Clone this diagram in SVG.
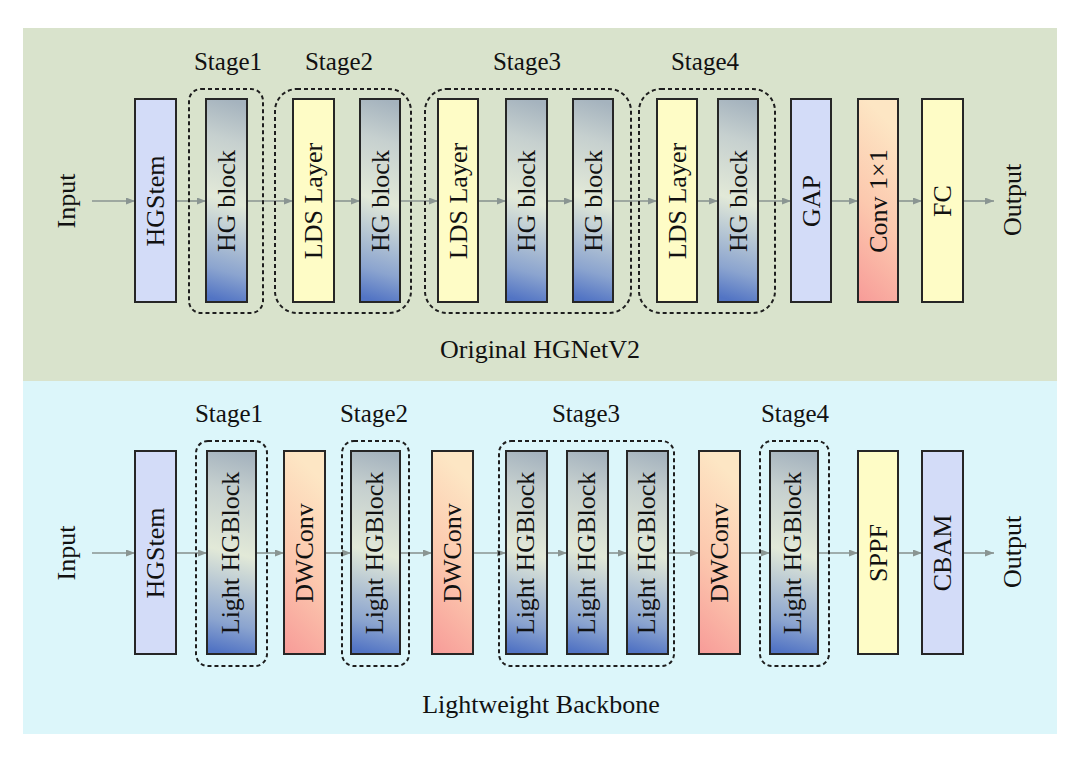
<svg xmlns="http://www.w3.org/2000/svg" width="1080" height="763" viewBox="0 0 1080 763">
<defs>
<linearGradient id="hg" x1="0.47" y1="1" x2="0.53" y2="0">
<stop offset="0" stop-color="#5274c4"/>
<stop offset="0.15" stop-color="#8ba4cf"/>
<stop offset="0.5" stop-color="#e2e9d8"/>
<stop offset="0.8" stop-color="#c6d0cf"/>
<stop offset="1" stop-color="#a5b3be"/>
</linearGradient>
<linearGradient id="cv" x1="0.2" y1="0" x2="0" y2="1">
<stop offset="0" stop-color="#fde6c4"/>
<stop offset="0.5" stop-color="#fcc8ae"/>
<stop offset="1" stop-color="#f79b98"/>
</linearGradient>
<marker id="ah" markerUnits="userSpaceOnUse" markerWidth="10" markerHeight="8" refX="9" refY="3.5" orient="auto">
<path d="M0,0 L9,3.5 L0,7 z" fill="#8a9592"/>
</marker>
</defs>
<style>
.t{font-family:"Liberation Serif","Times New Roman",serif;font-size:26px;fill:#111;text-anchor:middle}
.s{font-family:"Liberation Serif","Times New Roman",serif;font-size:25px;fill:#111;text-anchor:middle}
.b{stroke:#262626;stroke-width:2}
.lav{fill:#d3dcf8}
.yel{fill:#fefcc6}
.hg{fill:url(#hg)}
.cv{fill:url(#cv)}
.d{fill:none;stroke:#1e1e1e;stroke-width:2;stroke-dasharray:4 3}
.c line{stroke:#8a9592;stroke-width:1.6;marker-end:url(#ah)}
</style>
<rect x="0" y="0" width="1080" height="763" fill="#ffffff"/>
<rect id="panel-top" x="23" y="28" width="1034" height="353" fill="#d9e3cc"/>
<rect id="panel-bottom" x="23" y="381" width="1034" height="353" fill="#dcf6fa"/>

<g id="connectors" class="c">
<line x1="92" y1="201" x2="135" y2="201"/>
<line x1="176" y1="201" x2="206" y2="201"/>
<line x1="247" y1="201" x2="293" y2="201"/>
<line x1="334" y1="201" x2="360" y2="201"/>
<line x1="400" y1="201" x2="438" y2="201"/>
<line x1="478" y1="201" x2="506" y2="201"/>
<line x1="547" y1="201" x2="573" y2="201"/>
<line x1="613" y1="201" x2="657" y2="201"/>
<line x1="697" y1="201" x2="718" y2="201"/>
<line x1="758" y1="201" x2="791" y2="201"/>
<line x1="831" y1="201" x2="858" y2="201"/>
<line x1="898" y1="201" x2="922" y2="201"/>
<line x1="963" y1="201" x2="994" y2="201"/>
<line x1="92" y1="553" x2="135" y2="553"/>
<line x1="176" y1="553" x2="207" y2="553"/>
<line x1="256" y1="553" x2="284" y2="553"/>
<line x1="325" y1="553" x2="351" y2="553"/>
<line x1="400" y1="553" x2="432" y2="553"/>
<line x1="473" y1="553" x2="506" y2="553"/>
<line x1="547" y1="553" x2="567" y2="553"/>
<line x1="608" y1="553" x2="627" y2="553"/>
<line x1="668" y1="553" x2="699" y2="553"/>
<line x1="740" y1="553" x2="770" y2="553"/>
<line x1="818" y1="553" x2="858" y2="553"/>
<line x1="898" y1="553" x2="922" y2="553"/>
<line x1="963" y1="553" x2="994" y2="553"/>
</g>

<g id="top-stages">
<rect class="d" x="189" y="89" width="74" height="224" rx="12"/>
<rect class="d" x="275" y="89" width="136" height="224" rx="22"/>
<rect class="d" x="425" y="89" width="206" height="224" rx="22"/>
<rect class="d" x="639" y="89" width="136" height="224" rx="22"/>
<text class="s" x="228" y="70">Stage1</text>
<text class="s" x="339" y="70">Stage2</text>
<text class="s" x="527" y="70">Stage3</text>
<text class="s" x="705" y="70">Stage4</text>
</g>

<g id="top-input"><text class="t" transform="translate(75,201) rotate(-90)">Input</text></g>
<g id="top-hgstem"><rect class="b lav" x="135" y="99" width="41" height="203"/><text class="t" transform="translate(164,201) rotate(-90)">HGStem</text></g>
<g id="top-hg1"><rect class="b hg" x="206" y="99" width="41" height="203"/><text class="t" transform="translate(235,201) rotate(-90)">HG block</text></g>
<g id="top-lds2"><rect class="b yel" x="293" y="99" width="41" height="203"/><text class="t" transform="translate(322,201) rotate(-90)">LDS Layer</text></g>
<g id="top-hg2"><rect class="b hg" x="360" y="99" width="40" height="203"/><text class="t" transform="translate(388.5,201) rotate(-90)">HG block</text></g>
<g id="top-lds3"><rect class="b yel" x="438" y="99" width="40" height="203"/><text class="t" transform="translate(466.5,201) rotate(-90)">LDS Layer</text></g>
<g id="top-hg3a"><rect class="b hg" x="506" y="99" width="41" height="203"/><text class="t" transform="translate(535,201) rotate(-90)">HG block</text></g>
<g id="top-hg3b"><rect class="b hg" x="573" y="99" width="40" height="203"/><text class="t" transform="translate(601.5,201) rotate(-90)">HG block</text></g>
<g id="top-lds4"><rect class="b yel" x="657" y="99" width="40" height="203"/><text class="t" transform="translate(685.5,201) rotate(-90)">LDS Layer</text></g>
<g id="top-hg4"><rect class="b hg" x="718" y="99" width="40" height="203"/><text class="t" transform="translate(746.5,201) rotate(-90)">HG block</text></g>
<g id="top-gap"><rect class="b lav" x="791" y="99" width="40" height="203"/><text class="t" transform="translate(819.5,201) rotate(-90)">GAP</text></g>
<g id="top-conv"><rect class="b cv" x="858" y="99" width="40" height="203"/><text class="t" transform="translate(886.5,201) rotate(-90)">Conv 1×1</text></g>
<g id="top-fc"><rect class="b yel" x="922" y="99" width="41" height="203"/><text class="t" transform="translate(951,201) rotate(-90)">FC</text></g>
<g id="top-output"><text class="t" transform="translate(1021,200) rotate(-90)">Output</text></g>
<g id="top-title"><text class="t" x="540" y="358">Original HGNetV2</text></g>

<g id="bottom-stages">
<rect class="d" x="196" y="441" width="71" height="225" rx="12"/>
<rect class="d" x="342" y="441" width="67" height="225" rx="12"/>
<rect class="d" x="499" y="441" width="175" height="225" rx="12"/>
<rect class="d" x="760" y="441" width="69" height="225" rx="12"/>
<text class="s" x="229" y="422">Stage1</text>
<text class="s" x="374" y="422">Stage2</text>
<text class="s" x="586" y="422">Stage3</text>
<text class="s" x="795" y="422">Stage4</text>
</g>

<g id="bottom-input"><text class="t" transform="translate(75,553) rotate(-90)">Input</text></g>
<g id="bottom-hgstem"><rect class="b lav" x="135" y="451" width="41" height="203"/><text class="t" transform="translate(164,553) rotate(-90)">HGStem</text></g>
<g id="bottom-lhg1"><rect class="b hg" x="207" y="451" width="49" height="203"/><text class="t" transform="translate(238.5,553) rotate(-90)">Light HGBlock</text></g>
<g id="bottom-dw1"><rect class="b cv" x="284" y="451" width="41" height="203"/><text class="t" transform="translate(313,553) rotate(-90)">DWConv</text></g>
<g id="bottom-lhg2"><rect class="b hg" x="351" y="451" width="49" height="203"/><text class="t" transform="translate(382.5,553) rotate(-90)">Light HGBlock</text></g>
<g id="bottom-dw2"><rect class="b cv" x="432" y="451" width="41" height="203"/><text class="t" transform="translate(461,553) rotate(-90)">DWConv</text></g>
<g id="bottom-lhg3a"><rect class="b hg" x="506" y="451" width="41" height="203"/><text class="t" transform="translate(533.5,553) rotate(-90)">Light HGBlock</text></g>
<g id="bottom-lhg3b"><rect class="b hg" x="567" y="451" width="41" height="203"/><text class="t" transform="translate(594.5,553) rotate(-90)">Light HGBlock</text></g>
<g id="bottom-lhg3c"><rect class="b hg" x="627" y="451" width="41" height="203"/><text class="t" transform="translate(654.5,553) rotate(-90)">Light HGBlock</text></g>
<g id="bottom-dw3"><rect class="b cv" x="699" y="451" width="41" height="203"/><text class="t" transform="translate(728,553) rotate(-90)">DWConv</text></g>
<g id="bottom-lhg4"><rect class="b hg" x="770" y="451" width="48" height="203"/><text class="t" transform="translate(801,553) rotate(-90)">Light HGBlock</text></g>
<g id="bottom-sppf"><rect class="b yel" x="858" y="451" width="40" height="203"/><text class="t" transform="translate(886.5,553) rotate(-90)">SPPF</text></g>
<g id="bottom-cbam"><rect class="b lav" x="922" y="451" width="41" height="203"/><text class="t" transform="translate(951,553) rotate(-90)">CBAM</text></g>
<g id="bottom-output"><text class="t" transform="translate(1021,552) rotate(-90)">Output</text></g>
<g id="bottom-title"><text class="t" x="541" y="713">Lightweight Backbone</text></g>
</svg>
